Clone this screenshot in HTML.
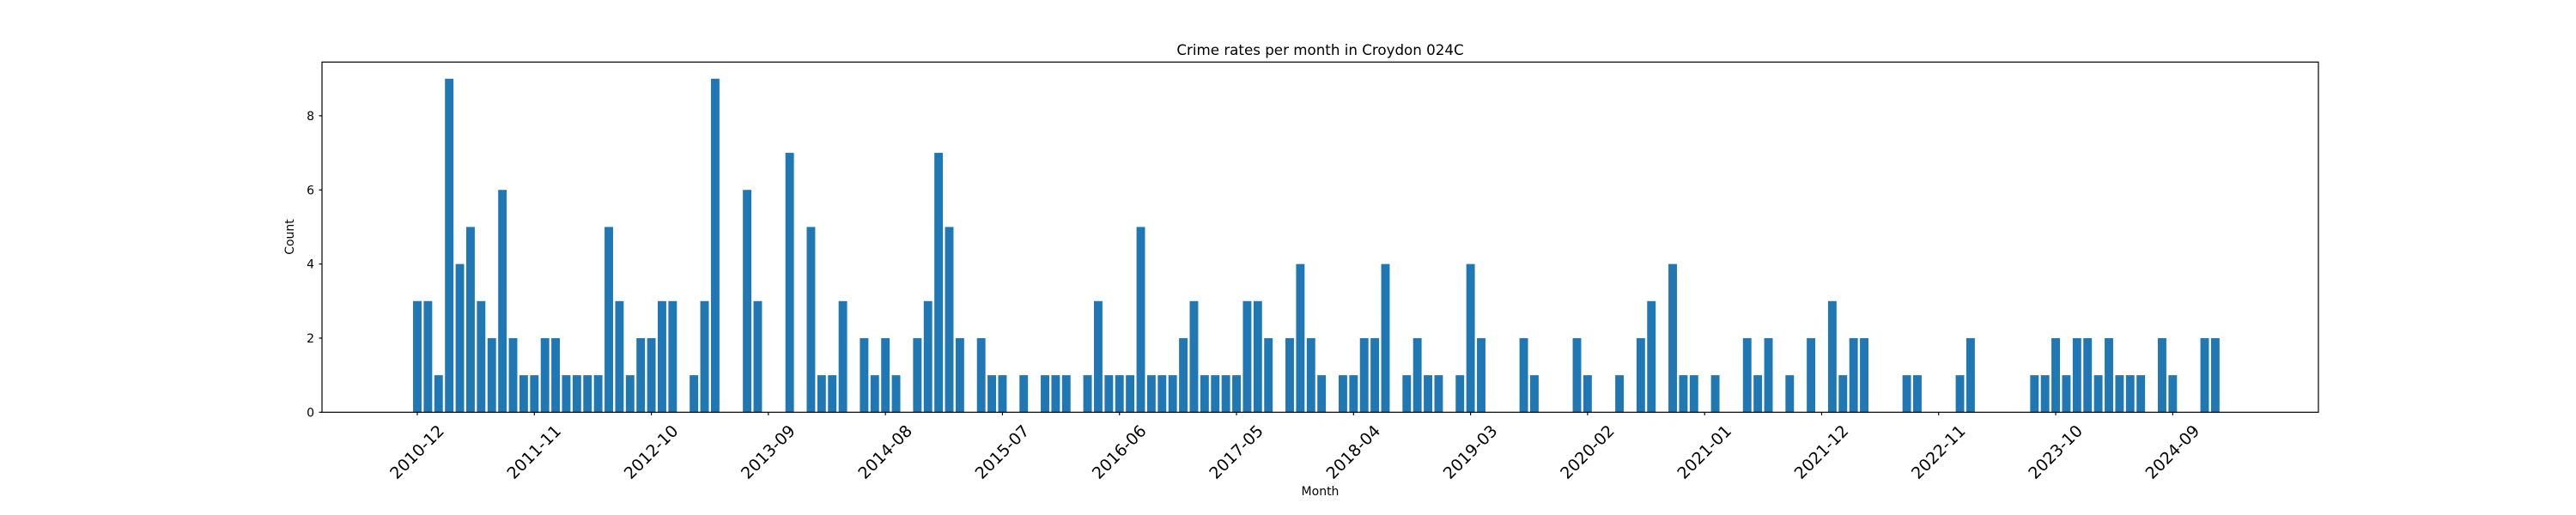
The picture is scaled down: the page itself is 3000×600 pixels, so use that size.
<!DOCTYPE html>
<html><head><meta charset="utf-8"><style>
html,body{margin:0;padding:0;background:#fff;}
svg{display:block;font-family:"DejaVu Sans","Liberation Sans",sans-serif;}
</style></head><body>
<svg id="chart" width="3000" height="600" viewBox="0 0 3000 600" xmlns="http://www.w3.org/2000/svg">
<rect x="0" y="0" width="3000" height="600" fill="#fff"/>
<text x="1537.5" y="64" font-size="16.7" text-anchor="middle" fill="#000">Crime rates per month in Croydon 024C</text>
<g id="bars"></g>
<g id="yaxis"></g>
<g id="xaxis"></g>
<rect x="375" y="72.3" width="2325" height="408" fill="none" stroke="#000" stroke-width="1.2"/>
<text x="1537.5" y="577" font-size="14" text-anchor="middle" fill="#000">Month</text>
<text x="0" y="0" font-size="14" text-anchor="middle" fill="#000" transform="translate(342,276) rotate(-90)">Count</text>
</svg>
<script>
const startYear = 2010, startMonth = 12;
const counts = [3,3,1,9,4,5,3,2,6,2,1,1,2,2,1,1,1,1,5,3,1,2,2,3,3,0,1,3,9,0,0,6,3,0,0,7,0,5,1,1,3,0,2,1,2,1,0,2,3,7,5,2,0,2,1,1,0,1,0,1,1,1,0,1,3,1,1,1,5,1,1,1,2,3,1,1,1,1,3,3,2,0,2,4,2,1,0,1,1,2,2,4,0,1,2,1,1,0,1,4,2,0,0,0,2,1,0,0,0,2,1,0,0,1,0,2,3,0,4,1,1,0,1,0,0,2,1,2,0,1,0,2,0,3,1,2,2,0,0,0,1,1,0,0,0,1,2,0,0,0,0,0,1,1,2,1,2,2,1,2,1,1,1,0,2,1,0,0,2,2];
const xTickLabels = ["2010-12","2011-11","2012-10","2013-09","2014-08","2015-07","2016-06","2017-05","2018-04","2019-03","2020-02","2021-01","2021-12","2022-11","2023-10","2024-09"];
const yTicks = [0,2,4,6,8];

const months = [];
for (let i = 0; i < counts.length; i++) {
  const m0 = startMonth - 1 + i;
  const y = startYear + Math.floor(m0 / 12);
  const m = (m0 % 12) + 1;
  months.push(y + "-" + String(m).padStart(2, "0"));
}

const NS = "http://www.w3.org/2000/svg";
const X0 = 486, STEP = 12.39, BW = 9.9;
const Y0 = 480.3, UNIT = 408 / 9.45;
const xScale = i => X0 + STEP * i;
const yScale = v => Y0 - v * UNIT;

function mk(tag, attrs) {
  const e = document.createElementNS(NS, tag);
  for (const k in attrs) e.setAttribute(k, attrs[k]);
  return e;
}

const barsG = document.getElementById("bars");
counts.forEach((v, i) => {
  const r = mk("rect", {x: xScale(i) - BW / 2, y: yScale(v), width: BW, height: Y0 - yScale(v), fill: "#1f77b4"});
  
  
  barsG.appendChild(r);
});

const yG = document.getElementById("yaxis");
yTicks.forEach(t => {
  const y = yScale(t);
  const l = mk("line", {x1: 375, x2: 371.5, y1: y, y2: y, stroke: "#000", "stroke-width": 1.2});
  
  
  yG.appendChild(l);
  const tx = mk("text", {x: 366, y: y + 5, "font-size": 14, "text-anchor": "end", fill: "#000"});
  
  
  tx.textContent = String(t);
  yG.appendChild(tx);
});

const xG = document.getElementById("xaxis");
xTickLabels.forEach(lab => {
  const idx = months.indexOf(lab);
  const x = xScale(idx);
  const l = mk("line", {x1: x, x2: x, y1: Y0, y2: Y0 + 3.5, stroke: "#000", "stroke-width": 1.2});
  
  
  xG.appendChild(l);
  const tx = mk("text", {x: 0, y: 0, "font-size": 19, "text-anchor": "middle", "dominant-baseline": "central", fill: "#000", transform: "translate(" + x + ",527) rotate(-45)"});
  
  
  tx.textContent = lab;
  xG.appendChild(tx);
});
</script>
</body></html>
